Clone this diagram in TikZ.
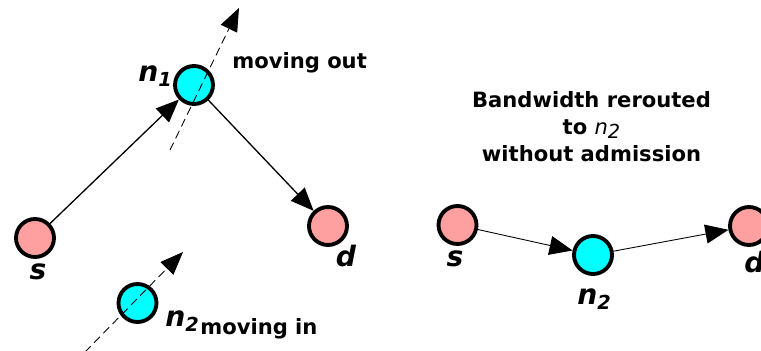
\documentclass[tikz,border=0pt]{standalone}
\usepackage{fontspec}
\setmainfont{DejaVu Sans}
\usetikzlibrary{arrows.meta}

\definecolor{hostpink}{RGB}{255,160,160}
\definecolor{relaycyan}{RGB}{0,255,255}

% subíndice de los nodos intermedios
\newcommand{\idx}[1]{\raisebox{-2.5pt}{\fontsize{11}{12}\selectfont #1}}

\tikzset{
  host/.style={circle,draw,line width=2.2pt,fill=hostpink,minimum size=0.76cm,inner sep=0pt},
  relay/.style={host,fill=relaycyan},
  flow/.style={line width=0.75pt,-{Triangle[length=4.6mm,width=3.8mm]}},
  motion/.style={line width=0.5pt,dash pattern=on 4.5pt off 3pt,-{Triangle[length=4.6mm,width=3.6mm]}},
  tag/.style={font=\fontsize{16}{18}\selectfont\bfseries\itshape,inner sep=0pt},
  note/.style={font=\fontsize{12}{15.4}\selectfont\bfseries,inner sep=0pt},
}

\begin{document}
\begin{tikzpicture}[x=1cm,y=1cm,line cap=round,line join=round]
    \useasboundingbox (0,0) rectangle (15.22,7.02);

    % Ruta original s -> n1 -> d
    \node[host] (sL) at (0.70,2.26) {};
    \node[relay] (n1) at (3.88,5.32) {};
    \node[host] (dL) at (6.56,2.50) {};
    \node[relay] (n2L) at (2.75,0.96) {};
    \draw[flow] (sL) -- (n1);
    \draw[flow] (n1) -- (dL);

    % Movimiento de los nodos
    \coordinate (outA) at (3.40,4.02);
    \coordinate (outB) at (4.78,6.86);
    \coordinate (inA) at (1.70,-0.02);
    \coordinate (inB) at (3.66,1.98);
    \draw[motion] (outA) -- (outB);
    \draw[motion] (inA) -- (inB);

    % Etiquetas
    \node[tag] (n1tag) at (3.10,5.50) {n\idx{1}};
    \node[note,anchor=base west] (outtxt) at (4.64,5.64) {moving out};
    \node[tag,anchor=base] (sLtag) at (0.76,1.42) {s};
    \node[tag,anchor=base] (dLtag) at (6.92,1.68) {d};
    \node[tag,anchor=base west] (n2Ltag) at (3.30,0.48) {n\idx{2}};
    \node[note,anchor=base west] (intxt) at (4.00,0.32) {moving in};

    % Ruta nueva s -> n2 -> d
    \node[host] (sR) at (9.15,2.52) {};
    \node[relay] (n2R) at (11.86,1.92) {};
    \node[host] (dR) at (14.98,2.50) {};
    \draw[flow,line width=0.5pt] (sR) -- (n2R);
    \draw[flow,line width=0.5pt] (n2R) -- (dR);

    \node[tag,anchor=base] (sRtag) at (9.10,1.68) {s};
    \node[tag,anchor=base west] (n2Rtag) at (11.54,0.92) {n\idx{2}};
    \node[tag,anchor=base west] (dRtag) at (14.88,1.56) {d};

    \node[note,align=center,anchor=north] (msg) at (11.83,5.20)
        {Bandwidth rerouted\\to {\mdseries\itshape n\idx{2}}\\without admission};
\end{tikzpicture}
\end{document}
